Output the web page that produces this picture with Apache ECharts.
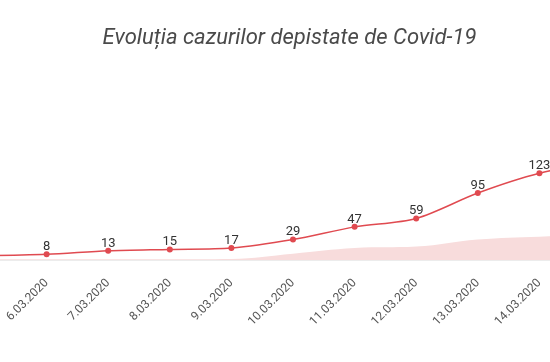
<!DOCTYPE html>
<html><head><meta charset="utf-8">
<script src="https://cdn.jsdelivr.net/npm/echarts@6/dist/echarts.min.js"></script>
<style>html,body{margin:0;padding:0;background:#fff;overflow:hidden;width:550px;height:362px}#c{width:615.5px;height:362px;margin-left:-15.5px}</style>
</head><body><div id="c"></div>
<script>
const categories = ['5.03.2020','6.03.2020','7.03.2020','8.03.2020','9.03.2020','10.03.2020','11.03.2020','12.03.2020','13.03.2020','14.03.2020','15.03.2020'];
const cases = [6, 8, 13, 15, 17, 29, 47, 59, 95, 123, 139];
const areaValues = [1, 1, 1, 1, 1.5, 9, 17, 19, 29, 33, 35];
const titleText = 'Evoluția cazurilor depistate de Covid-19';

const chart = echarts.init(document.getElementById('c'));
chart.setOption({
  animation: false,
  title: {text: titleText, left: 299.5, textAlign: 'center', top: 22,
    textStyle: {fontFamily: 'Roboto', fontStyle: 'italic', fontWeight: 'normal', fontSize: 22, color: '#4a4a4a'}},
  grid: {left: 0, right: 0, top: 119, bottom: 102, containLabel: false, outerBoundsMode: 'none'},
  xAxis: {type: 'category', data: categories, boundaryGap: false,
    axisLine: {show: true, lineStyle: {color: '#ececec'}},
    axisTick: {show: false},
    axisLabel: {rotate: 45, margin: 21, fontFamily: 'Roboto', fontSize: 12, color: '#555', interval: 0}},
  yAxis: {type: 'value', min: 0, max: 200, show: false, splitLine: {show: false}},
  series: [
    {type: 'line', data: areaValues, smooth: 0.4, symbol: 'none',
      lineStyle: {width: 0}, areaStyle: {color: '#f8dcdc', opacity: 1}, z: 1},
    {type: 'line', data: cases, smooth: 0.3, symbol: 'circle', symbolSize: 6,
      itemStyle: {color: '#e04a50'}, lineStyle: {color: '#e04a50', width: 1.5},
      label: {show: true, position: 'top', distance: -2, fontFamily: 'Roboto', fontSize: 13, color: '#333'}, z: 3}
  ]
});
</script></body></html>
